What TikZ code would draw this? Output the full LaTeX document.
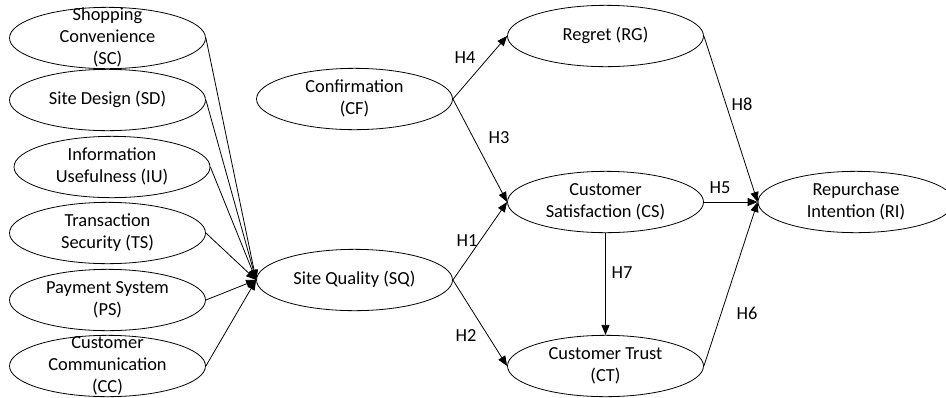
\documentclass[tikz,border=0pt]{standalone}
\usepackage{fontspec}
\setmainfont{Carlito}
\usetikzlibrary{shapes.geometric,arrows.meta}

% text of a construct, kept out of the ellipse size
\newcommand{\ctext}[1]{\raisebox{-0.28em}[0pt][0pt]{\begin{tabular}{@{}c@{}}#1\end{tabular}}}

\begin{document}
\begin{tikzpicture}[x=0.75pt,y=0.75pt,yscale=-1,xscale=1,
  every node/.style={font=\fontsize{13.8}{16.5}\selectfont},
  construct/.style={draw, ellipse, minimum width=147pt, minimum height=46pt, inner sep=0pt, line width=0.6pt},
  link/.style={-{Triangle[length=7.5pt,width=6pt]}, line width=0.6pt},
  hyp/.style={inner sep=0.75pt}]
\useasboundingbox (0,0) rectangle (946,397);

%Shape: Ellipses, site quality dimensions
\node [construct] (sc) at (107.5,38) {\ctext{Shopping\\Convenience\\(SC)}};
\node [construct] (sd) at (107.5,100) {\ctext{Site Design (SD)}};
\node [construct] (iu) at (112,167) {\ctext{Information\\Usefulness (IU)}};
\node [construct] (ts) at (107.5,233) {\ctext{Transaction\\Security (TS)}};
\node [construct] (ps) at (107.5,300) {\ctext{Payment System\\(PS)}};
\node [construct] (cc) at (107.5,366) {\ctext{Customer\\Communication\\(CC)}};

%Shape: Ellipses, model
\node [construct] (cf) at (354.5,99) {\ctext{Confirmation\\(CF)}};
\node [construct] (sq) at (354.5,280) {\ctext{Site Quality (SQ)}};
\node [construct] (rg) at (605.5,36) {\ctext{Regret (RG)}};
\node [construct] (cs) at (605.5,202) {\ctext{Customer\\Satisfaction (CS)}};
\node [construct] (ct) at (605.5,366) {\ctext{Customer Trust\\(CT)}};
\node [construct] (ri) at (856,202) {\ctext{Repurchase\\Intention (RI)}};

%Straight Lines
\foreach \dim in {sc,sd,iu,ts,ps,cc}
  \draw [link] (\dim.east) -- (sq.west);
\draw [link] (cf.east) -- (rg.west);
\draw [link] (cf.east) -- (cs.west);
\draw [link] (sq.east) -- (cs.west);
\draw [link] (sq.east) -- (ct.west);
\draw [link] (cs.east) -- (ri.west);
\draw [link] (rg.east) -- (ri.west);
\draw [link] (ct.east) -- (ri.west);
\draw [link] (cs.south) -- (ct.north);

% Text Node
\node [hyp] (h1) at (467,241) {H1};
\node [hyp] (h2) at (466,336) {H2};
\node [hyp] (h3) at (499,138) {H3};
\node [hyp] (h4) at (465,58) {H4};
\node [hyp] (h5) at (720,188) {H5};
\node [hyp] (h6) at (747,313) {H6};
\node [hyp] (h7) at (622,273) {H7};
\node [hyp] (h8) at (742,104) {H8};

\end{tikzpicture}
\end{document}
